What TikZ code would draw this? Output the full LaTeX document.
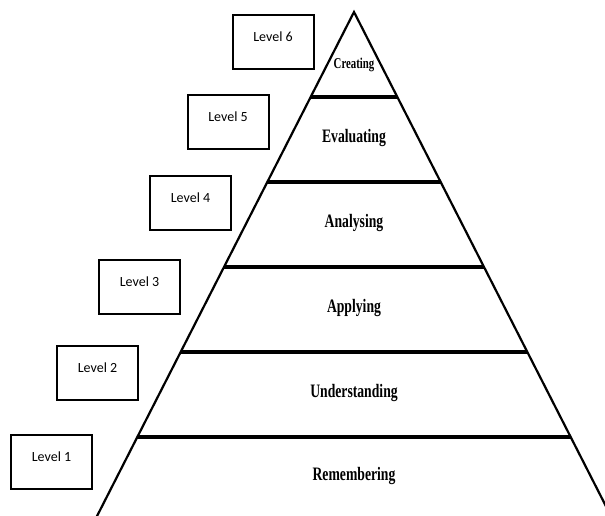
\documentclass[tikz,border=0pt]{standalone}
\usepackage{fontspec}
\setmainfont{Liberation Serif}
\newfontfamily\tierfont[FakeStretch=0.72]{Liberation Serif}
\newfontfamily\boxfont{Carlito}
\usetikzlibrary{calc}

\begin{document}
\begin{tikzpicture}[
    x=1pt, y=-1pt,
    every path/.style={line join=miter},
    side/.style={line width=2.2pt},
    tier/.style={line width=3.2pt},
    lvbox/.style={draw, line width=2pt, minimum width=81pt, minimum height=54pt,
                  inner sep=0pt, font=\boxfont\fontsize{14}{16}\selectfont},
    tiertext/.style={inner sep=0pt, font=\tierfont\bfseries\fontsize{19}{21}\selectfont}
    ]
    \useasboundingbox (0,0) rectangle (605,516);

    % pyramid
    \coordinate (apex) at (354,12);
    \coordinate (bl) at (94,522);
    \coordinate (br) at (614,522);
    \draw[side] (bl) -- (apex) -- (br);

    % tiers
    \draw[tier] ($(apex)!0.1667!(bl)$) -- ($(apex)!0.1667!(br)$);
    \draw[tier] ($(apex)!0.3333!(bl)$) -- ($(apex)!0.3333!(br)$);
    \draw[tier] ($(apex)!0.5!(bl)$)    -- ($(apex)!0.5!(br)$);
    \draw[tier] ($(apex)!0.6667!(bl)$) -- ($(apex)!0.6667!(br)$);
    \draw[tier] ($(apex)!0.8333!(bl)$) -- ($(apex)!0.8333!(br)$);

    % tier labels
    \node[tiertext, font=\tierfont\bfseries\fontsize{15}{17}\selectfont] (t6) at (354,65) {Creating};
    \node[tiertext] (t5) at (354,138) {Evaluating};
    \node[tiertext] (t4) at (354,223) {Analysing};
    \node[tiertext] (t3) at (354,308) {Applying};
    \node[tiertext] (t2) at (354,393) {Understanding};
    \node[tiertext] (t1) at (354,476) {Remembering};

    % level boxes
    \node[lvbox] (lv6) at (273,42)    {\raisebox{10pt}{Level 6}};
    \node[lvbox] (lv5) at (228,122)   {\raisebox{10pt}{Level 5}};
    \node[lvbox] (lv4) at (190.5,203) {\raisebox{10pt}{Level 4}};
    \node[lvbox] (lv3) at (139.5,287) {\raisebox{10pt}{Level 3}};
    \node[lvbox] (lv2) at (97.5,373)  {\raisebox{10pt}{Level 2}};
    \node[lvbox] (lv1) at (51.5,462)  {\raisebox{10pt}{Level 1}};

\end{tikzpicture}
\end{document}
